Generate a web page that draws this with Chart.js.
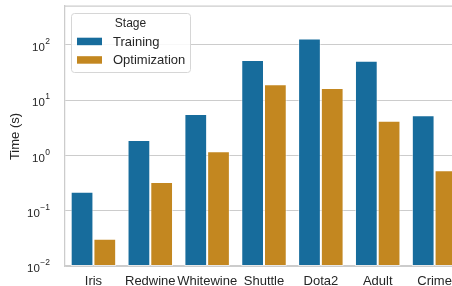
<!DOCTYPE html>
<html>
<head>
<meta charset="utf-8">
<script src="https://cdn.jsdelivr.net/npm/chart.js@4/dist/chart.umd.min.js"></script>
<style>
  html, body { margin: 0; padding: 0; background: #fff; overflow: hidden; }
  #wrap { width: 463px; height: 286px; }
</style>
</head>
<body>
<div id="wrap"><canvas id="barChart" width="463" height="286"></canvas></div>
<script>
const categories = ["Iris", "Redwine", "Whitewine", "Shuttle", "Dota2", "Adult", "Crime"];
const training = [0.22, 1.9, 5.6, 53, 129, 51, 5.3];
const optimization = [0.031, 0.33, 1.18, 19.3, 16.5, 4.2, 0.54];
const yTicks = [0.01, 0.1, 1, 10, 100];
const yExponents = ["\u22122", "\u22121", "0", "1", "2"];

let colors = {
  BLUE: "#176c9c",
  ORANGE: "#c38720",
  TEXT: "#262626",
  GRID: "#cccccc"
}
const FONT = "'Liberation Sans', Arial, sans-serif";

// draws the y tick labels as 10^n, the y title, the top spine and the legend box
const decorations = {
  id: 'decorations',
  afterDraw(chart) {
    const ctx = chart.ctx;
    const area = chart.chartArea;
    const y = chart.scales.y;
    ctx.save();

    ctx.strokeStyle = colors.GRID;
    ctx.lineWidth = 1.25;
    ctx.beginPath();
    ctx.moveTo(area.left, area.top);
    ctx.lineTo(area.right, area.top);
    ctx.stroke();

    ctx.fillStyle = colors.TEXT;
    ctx.textBaseline = 'middle';
    yTicks.forEach((v, i) => {
      const py = y.getPixelForValue(v);
      ctx.font = "11.5px " + FONT;
      const wBase = ctx.measureText("10").width;
      ctx.font = "8.5px " + FONT;
      const wExp = ctx.measureText(yExponents[i]).width;
      const right = 50;
      ctx.textAlign = 'left';
      ctx.font = "11.5px " + FONT;
      ctx.fillText("10", right - wExp - wBase - 0.5, py + 3);
      ctx.font = "8.5px " + FONT;
      ctx.fillText(yExponents[i], right - wExp, py - 3);
    });

    // y title
    ctx.save();
    ctx.translate(15, (area.top + area.bottom) / 2 + 0.5);
    ctx.rotate(-Math.PI / 2);
    ctx.textAlign = 'center';
    ctx.font = "13px " + FONT;
    ctx.fillText("Time (s)", 0, 0);
    ctx.restore();

    // legend
    const lx = 71.5, ly = 13.5, lw = 119, lh = 59;
    ctx.fillStyle = 'rgba(255,255,255,0.85)';
    ctx.strokeStyle = '#d6d6d6';
    ctx.lineWidth = 1;
    ctx.beginPath();
    ctx.roundRect(lx, ly, lw, lh, 3);
    ctx.fill();
    ctx.stroke();

    ctx.fillStyle = colors.TEXT;
    ctx.font = "12px " + FONT;
    ctx.textAlign = 'center';
    ctx.fillText("Stage", 130.5, 23.5);
    const entries = [["Training", colors.BLUE, 41.5], ["Optimization", colors.ORANGE, 60]];
    ctx.textAlign = 'left';
    ctx.font = "13px " + FONT;
    entries.forEach(e => {
      ctx.fillStyle = e[1];
      ctx.fillRect(77, e[2] - 3.8, 25, 7.5);
      ctx.fillStyle = colors.TEXT;
      ctx.fillText(e[0], 113, e[2] + 0.5);
    });
    ctx.restore();
  }
};

const ctx = document.getElementById("barChart");

new Chart(ctx, {
  type: 'bar',
  data: {
    labels: categories,
    datasets: [
      {
        label: 'Training',
        data: training,
        backgroundColor: colors.BLUE,
        borderColor: 'rgba(255,255,255,0.55)',
        borderWidth: 1,
        borderSkipped: false
      },
      {
        label: 'Optimization',
        data: optimization,
        backgroundColor: colors.ORANGE,
        borderColor: 'rgba(255,255,255,0.55)',
        borderWidth: 1,
        borderSkipped: false
      }
    ]
  },
  options: {
    responsive: false,
    animation: false,
    layout: { padding: { top: 6, right: 0, left: 0, bottom: 0 } },
    datasets: { bar: { categoryPercentage: 0.8, barPercentage: 1.0 } },
    plugins: {
      legend: { display: false },
      tooltip: { enabled: false }
    },
    scales: {
      x: {
        grid: { display: false, drawTicks: false },
        border: { display: true, color: colors.GRID, width: 1.25 },
        ticks: { color: colors.TEXT, font: { family: FONT, size: 13 }, padding: 8, maxRotation: 0, autoSkip: false },
        afterFit(scale) { scale.height = 20; }
      },
      y: {
        type: 'logarithmic',
        min: 0.01,
        max: 500,
        afterBuildTicks(scale) { scale.ticks = yTicks.map(v => ({ value: v })); },
        grid: { color: colors.GRID, lineWidth: 1, drawTicks: false },
        border: { display: true, color: colors.GRID, width: 1.25 },
        ticks: { display: false },
        afterFit(scale) { scale.width = 65; }
      }
    }
  },
  plugins: [decorations]
});
</script>
</body>
</html>
